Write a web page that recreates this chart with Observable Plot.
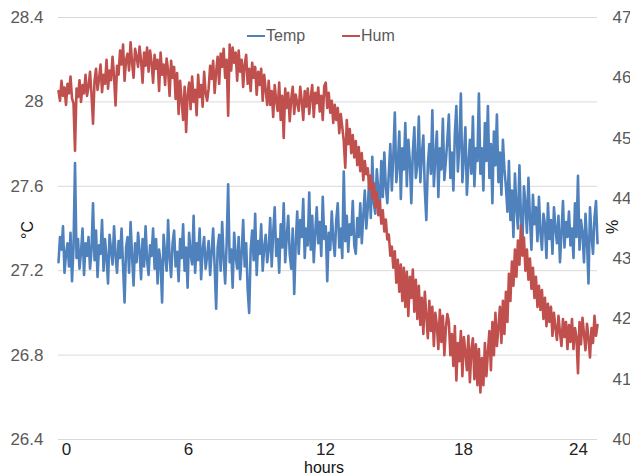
<!DOCTYPE html>
<html><head><meta charset="utf-8">
<script src="https://cdn.jsdelivr.net/npm/d3@7"></script>
<script src="https://cdn.jsdelivr.net/npm/@observablehq/plot@0.6"></script>
<style>
body{margin:0;background:#fff;font-family:"Liberation Sans",Arial,sans-serif;}
#wrap{position:relative;width:630px;height:475px;overflow:hidden;}
.t{position:absolute;white-space:nowrap;line-height:16px;}
.lgline{position:absolute;height:2px;width:18px;}
</style></head><body><div id="wrap"></div>
<script>
const temp = [
27.24,27.36,27.30,27.41,27.19,27.28,27.33,27.22,27.38,27.15,27.31,27.71,27.26,27.35,27.21,27.29,27.40,27.18,27.33,27.27,
27.36,27.21,27.30,27.52,27.25,27.39,27.17,27.32,27.28,27.44,27.20,27.35,27.26,27.14,27.37,27.30,27.23,27.41,27.27,27.19,
27.34,27.26,27.40,27.22,27.05,27.31,27.36,27.19,27.43,27.27,27.13,27.33,27.24,27.38,27.29,27.16,27.35,27.22,27.41,27.25,
27.18,27.32,27.27,27.40,27.21,27.35,27.14,27.30,27.24,27.05,27.37,27.28,27.20,27.44,27.26,27.17,27.33,27.39,27.22,27.29,
27.15,27.35,27.26,27.42,27.20,27.31,27.12,27.38,27.28,27.23,27.46,27.19,27.33,27.25,27.40,27.16,27.30,27.36,27.21,27.27,
27.34,27.18,27.29,27.40,27.22,27.02,27.31,27.37,27.20,27.43,27.26,27.14,27.33,27.61,27.24,27.30,27.12,27.38,27.27,27.21,
27.36,27.16,27.28,27.44,27.22,27.33,27.11,27.00,27.30,27.39,27.25,27.47,27.18,27.34,27.28,27.42,27.20,27.31,27.37,27.24,
27.30,27.45,27.22,27.38,27.50,27.27,27.35,27.19,27.42,27.31,27.52,27.24,27.36,27.46,27.28,27.21,27.40,27.09,27.33,27.48,
27.28,27.44,27.36,27.54,27.26,27.40,27.32,27.57,27.30,27.46,27.24,27.38,27.50,27.33,27.43,27.27,27.55,27.35,27.41,27.15,
27.38,27.30,27.48,27.35,27.27,27.44,27.52,27.31,27.40,27.26,27.67,27.34,27.46,27.29,27.42,27.37,27.53,27.32,27.28,27.45,
27.36,27.52,27.33,27.46,27.58,27.40,27.50,27.64,27.45,27.74,27.52,27.47,27.68,27.58,27.50,27.72,27.55,27.76,27.60,27.52,
27.66,27.80,27.58,27.74,27.95,27.62,27.70,27.86,27.54,27.78,27.68,27.90,27.60,27.82,27.72,27.52,27.76,27.88,27.64,27.70,
27.93,27.62,27.75,27.84,27.58,27.44,27.70,27.80,27.66,27.96,27.60,27.74,27.86,27.55,27.78,27.68,27.92,27.63,27.72,27.82,
27.94,27.64,27.76,27.58,27.85,27.98,27.67,27.80,28.04,27.62,27.74,27.88,27.56,27.70,27.82,27.66,27.93,27.60,27.78,27.72,
28.04,27.66,27.78,27.58,27.90,27.72,27.98,27.64,27.80,27.52,27.86,27.70,27.94,27.62,27.76,27.56,27.82,27.68,27.60,27.48,
27.72,27.44,27.58,27.36,27.66,27.50,27.40,27.70,27.46,27.32,27.60,27.52,27.38,27.64,27.45,27.30,27.56,27.42,27.50,27.34,
27.55,27.38,27.30,27.47,27.42,27.26,27.52,27.35,27.44,27.28,27.50,27.40,27.33,27.46,27.24,27.38,27.53,27.31,27.43,27.36,
27.48,27.32,27.40,27.26,27.52,27.36,27.65,27.30,27.44,27.38,27.24,27.47,27.34,27.14,27.50,27.37,27.28,27.45,27.53,27.33
];
const hum = [
45.78,45.62,45.95,45.70,45.84,45.55,45.90,45.74,46.02,45.66,45.58,44.79,45.82,45.68,45.96,45.60,45.88,45.74,46.05,45.70,
45.85,46.10,45.72,45.24,45.95,46.15,45.80,45.98,46.22,45.76,46.05,45.90,46.30,45.82,46.12,45.96,46.35,46.02,45.54,46.20,
46.05,46.45,46.22,46.55,45.95,46.30,46.40,46.12,46.59,46.25,46.00,46.48,46.35,46.18,46.52,46.28,45.92,46.42,46.20,46.50,
46.10,46.45,46.25,45.92,46.38,46.15,46.30,45.78,46.42,46.05,46.22,45.88,46.32,46.12,45.70,46.28,46.00,46.18,45.65,46.08,
45.40,45.95,45.62,45.30,45.85,45.10,45.72,45.92,45.48,46.02,45.60,45.80,45.38,46.05,45.68,45.88,45.52,46.10,45.75,45.62,
45.82,46.20,45.98,46.28,45.75,46.10,46.35,45.90,46.40,46.18,46.48,46.00,46.30,45.37,46.55,46.12,46.50,46.25,46.42,45.95,
46.45,46.10,46.30,45.85,46.22,46.38,45.90,46.15,45.78,46.25,46.00,46.18,45.72,46.10,45.88,46.15,45.62,46.05,45.80,45.55,
45.95,45.55,45.78,45.35,45.88,45.62,45.45,45.92,45.30,45.70,45.00,45.82,45.50,45.75,45.28,45.65,45.85,45.40,45.72,45.58,
45.45,45.85,45.62,45.30,45.78,45.52,45.82,45.40,45.68,45.88,45.35,45.75,45.58,45.84,45.44,45.70,45.30,45.86,45.92,45.50,
45.75,45.42,45.62,45.25,45.55,45.30,45.50,45.08,45.40,45.18,44.95,44.51,45.30,44.90,45.15,44.75,45.05,44.68,44.95,44.55,
44.85,44.45,44.75,44.30,44.62,44.40,44.50,44.15,44.38,44.00,44.25,43.85,44.10,43.72,43.95,43.58,43.80,43.45,43.65,43.32,
43.40,43.05,43.20,42.85,43.12,42.60,42.98,42.45,42.90,42.30,42.85,42.20,42.78,42.05,42.70,42.35,42.82,42.12,42.65,42.00,
42.55,41.90,42.35,41.75,42.45,42.05,41.68,42.30,41.80,42.20,41.55,42.10,41.90,41.50,42.15,41.62,42.05,41.40,41.85,42.08,
41.95,41.40,41.75,41.22,41.88,40.98,41.60,41.30,41.80,41.05,41.70,41.45,41.15,41.72,40.95,41.50,41.68,41.00,41.58,40.90,
41.50,40.78,41.35,40.90,41.60,41.05,41.45,41.80,41.15,41.95,41.40,42.10,41.55,41.85,42.20,41.60,42.30,41.75,42.45,41.95,
42.75,42.30,42.95,42.55,43.15,42.70,43.30,42.90,43.55,43.05,43.35,42.80,43.15,42.65,43.00,42.50,42.85,42.35,42.70,42.20,
42.55,42.15,42.48,42.00,42.35,41.88,42.25,41.95,42.20,41.72,42.10,41.85,41.65,42.05,41.78,41.55,42.00,41.70,41.95,41.50,
41.90,41.62,42.00,41.50,41.85,41.70,41.10,41.95,41.58,42.02,41.75,41.48,41.92,41.68,41.36,41.85,41.60,42.05,41.72,41.90
];
const tempTicks = [26.4, 26.8, 27.2, 27.6, 28, 28.4];
const humTicks = [40, 41, 42, 43, 44, 45, 46, 47];
const hourLabels = ["0", "6", "12", "18", "24"];
const hourTickIndex = [5.3, 86.6, 177.8, 269.7, 346.3];
const seriesNames = ["Temp", "Hum"];
const seriesColors = ["#4f81bd", "#c0504d"];

const tDom = [26.4, 28.4], hDom = [40, 47];
const h2t = h => tDom[0] + (h - hDom[0]) * (tDom[1] - tDom[0]) / (hDom[1] - hDom[0]);
const t2h = t => hDom[0] + (t - tDom[0]) * (hDom[1] - hDom[0]) / (tDom[1] - tDom[0]);
const dT = temp.map((v, i) => ({i, v}));
const dH = hum.map((v, i) => ({i, v: h2t(v)}));

const chart = Plot.plot({
  width: 630, height: 475,
  marginTop: 17, marginBottom: 36, marginLeft: 58, marginRight: 33,
  style: {fontFamily: "Liberation Sans, Arial, sans-serif", fontSize: "17px", color: "#595959", background: "#fff"},
  x: {domain: [0, temp.length - 1]},
  y: {domain: tDom},
  marks: [
    Plot.gridY(tempTicks, {stroke: "#d9d9d9", strokeOpacity: 1, strokeWidth: 1}),
    Plot.axisY(tempTicks, {anchor: "left", tickSize: 0, tickPadding: 15, tickFormat: d => String(d), label: null, fill: "#595959"}),
    Plot.axisY(humTicks.map(h2t), {anchor: "right", tickSize: 0, tickPadding: 15, tickFormat: t => String(Math.round(t2h(t))), label: null, fill: "#595959"}),
    Plot.axisX(hourTickIndex, {anchor: "bottom", tickSize: 0, tickPadding: 3, tickFormat: d => hourLabels[hourTickIndex.indexOf(d)], label: null, fill: "#222"}),
    Plot.lineY(dT, {x: "i", y: "v", stroke: seriesColors[0], strokeWidth: 2.6}),
    Plot.lineY(dH, {x: "i", y: "v", stroke: seriesColors[1], strokeWidth: 2.6})
  ]
});
const wrap = document.getElementById("wrap");
wrap.appendChild(chart);

function addText(txt, css) {
  const d = document.createElement("div");
  d.className = "t";
  d.textContent = txt;
  Object.assign(d.style, css);
  wrap.appendChild(d);
  return d;
}
addText("°C", {left: "19px", top: "222px", fontSize: "16px", color: "#111", transform: "rotate(-90deg)", transformOrigin: "center"});
addText("%", {left: "606px", top: "219px", fontSize: "16px", color: "#111", transform: "rotate(-90deg)", transformOrigin: "center"});
addText("hours", {left: "304px", top: "460px", fontSize: "16px", lineHeight: "15px", color: "#111"});
const lgX = [247, 342];
seriesNames.forEach((n, k) => {
  const l = document.createElement("div");
  l.className = "lgline";
  Object.assign(l.style, {left: lgX[k] + "px", top: "35px", background: seriesColors[k]});
  wrap.appendChild(l);
  addText(n, {left: (lgX[k] + 19) + "px", top: "28px", fontSize: "16px", color: "#595959"});
});
</script>
</body></html>
